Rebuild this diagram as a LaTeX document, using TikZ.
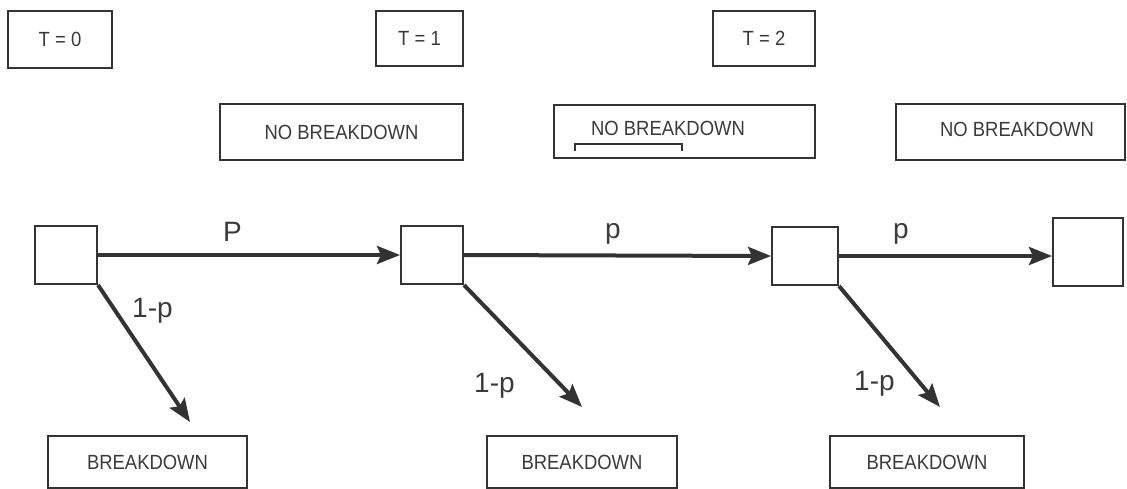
\documentclass[tikz,border=0pt]{standalone}
\usepackage{fontspec}
\setmainfont{Liberation Sans}
\newfontfamily\boxfont[FakeStretch=0.9]{Liberation Sans}
\usetikzlibrary{arrows.meta}
\definecolor{ink}{HTML}{333333}
\definecolor{txt}{HTML}{3A3A3A}
\begin{document}
\begin{tikzpicture}[x=1pt,y=-1pt,
  boxtext/.style={font=\boxfont\fontsize{20.5}{20.5}\selectfont, text=txt},
  box/.style={draw=ink, line width=2pt, rectangle, inner sep=0pt, boxtext},
  state/.style={draw=ink, line width=2pt, rectangle, inner sep=0pt},
  lbl/.style={font=\fontsize{28}{28}\selectfont, text=txt, inner sep=0pt, anchor=base west},
  flow/.style={draw=ink, line width=4pt, -{Stealth[length=23pt,width=18pt,inset=4pt]}},
]
\useasboundingbox (0,0) rectangle (1127,488);
\clip (0,0) rectangle (1127,488);

% time stamps
\node[box, minimum width=104pt, minimum height=57pt] (t0) at (60,39.5) {T = 0};
\node[box, minimum width=87pt, minimum height=55pt] (t1) at (419.5,38.5) {T = 1};
\node[box, minimum width=102pt, minimum height=55pt] (t2) at (764,38.5) {T = 2};

% outcomes without breakdown
\node[box, minimum width=243pt, minimum height=56pt] (nb1) at (341.5,132) {NO BREAKDOWN};
\node[box, minimum width=261pt, minimum height=53pt] (nb2) at (684.5,131.5) {};
\node[boxtext, inner sep=0pt] (nb2t) at (668,128) {NO BREAKDOWN};
\draw[ink, line width=1.5pt] (575,151) -- (575,144) -- (682,144) -- (682,151);
\node[box, minimum width=229pt, minimum height=56pt] (nb3) at (1010.5,132) {};
\node[boxtext, inner sep=0pt] (nb3t) at (1017,129) {NO BREAKDOWN};

% states
\node[state, minimum width=62pt, minimum height=58pt] (s0) at (66,255) {};
\node[state, minimum width=62pt, minimum height=58pt] (s1) at (432,255) {};
\node[state, minimum width=66pt, minimum height=58pt] (s2) at (805,256) {};
\node[state, minimum width=70pt, minimum height=68pt] (s3) at (1088,252) {};

% breakdown outcomes
\node[box, minimum width=199pt, minimum height=52pt] (bd0) at (147.5,462) {BREAKDOWN};
\node[box, minimum width=190pt, minimum height=52pt] (bd1) at (582,462) {BREAKDOWN};
\node[box, minimum width=194pt, minimum height=52pt] (bd2) at (927,462) {BREAKDOWN};

% transitions
\coordinate (e0) at (190,422);
\coordinate (e1) at (582,407);
\coordinate (e2) at (940,407);
\draw[flow] (s0.east) -- (s1.west);
\draw[flow] (s1.east) -- (s2.west);
\draw[flow] (s2.east) -- (s2.east -| s3.west);
\draw[flow] (s0.south east) -- (e0);
\draw[flow] (s1.south east) -- (e1);
\draw[flow] (s2.south east) -- (e2);

% probabilities
\node[lbl] (p0) at (223,241) {P};
\node[lbl] (q0) at (132,317) {1-p};
\node[lbl] (p1) at (605,238) {p};
\node[lbl] (q1) at (474,392) {1-p};
\node[lbl] (p2) at (893,238) {p};
\node[lbl] (q2) at (854,390) {1-p};
\end{tikzpicture}
\end{document}
